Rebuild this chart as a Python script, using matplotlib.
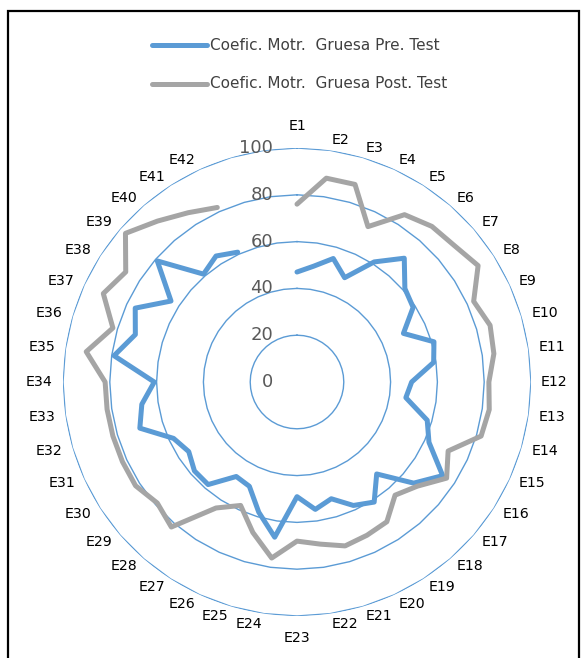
import numpy as np
import matplotlib
matplotlib.use("Agg")
import matplotlib.pyplot as plt
from matplotlib.lines import Line2D
from matplotlib.patches import Rectangle

# Categorias del radar (las dos ultimas posiciones van vacias, como en la hoja original)
categorias = ["E1", "E2", "E3", "E4", "E5", "E6", "E7", "E8", "E9", "E10",
              "E11", "E12", "E13", "E14", "E15", "E16", "E17", "E18", "E19", "E20",
              "E21", "E22", "E23", "E24", "E25", "E26", "E27", "E28", "E29", "E30",
              "E31", "E32", "E33", "E34", "E35", "E36", "E37", "E38", "E39", "E40",
              "E41", "E42", "", ""]

pre_test = [47, 50, 55, 49, 61, 70, 61, 59, 50, 61,
            59, 49, 47, 58, 62, 74, 66, 52, 61, 58,
            52, 55, 49, 67, 58, 49, 48, 58, 58, 55,
            58, 70, 67, 61, 79, 72, 76, 64, 79, 61,
            64, 61, np.nan, np.nan]

post_test = [76, 88, 88, 73, 85, 88, 89, 92, 83, 86,
             85, 82, 83, 82, 71, 76, 68, 64, 71, 72,
             73, 70, 68, 76, 67, 58, 64, 82, 79, 82,
             82, 82, 82, 82, 91, 82, 91, 87, 97, 91,
             86, 82, np.nan, np.nan]

niveles = [0, 20, 40, 60, 80, 100]

nombre_pre = "Coefic. Motr.  Gruesa Pre. Test"
nombre_post = "Coefic. Motr.  Gruesa Post. Test"

azul = "#5B9BD5"
gris = "#A5A5A5"

W, H = 584, 658
fig = plt.figure(figsize=(W / 100, H / 100), dpi=100)

# eje polar: centro en (297, 382) px, radio 234 px
cx, cy, R = 297, 382, 234
ax = fig.add_axes([(cx - R) / W, (H - cy - R) / H, 2 * R / W, 2 * R / H], projection="polar")
ax.set_theta_zero_location("N")
ax.set_theta_direction(-1)
ax.set_ylim(0, 100)
ax.grid(False)
ax.set_xticks([])
ax.set_yticks([])
ax.spines["polar"].set_visible(False)
ax.patch.set_visible(False)

n = len(categorias)
angulos = np.linspace(0, 2 * np.pi, n, endpoint=False)

# lineas de la cuadricula (poligonos de n lados)
ang_cerrado = np.append(angulos, angulos[0])
for nv in niveles[1:]:
    ax.plot(ang_cerrado, [nv] * (n + 1), color=azul, lw=1.0, zorder=1)

# series
ax.plot(angulos, pre_test, color=azul, lw=3.6, solid_capstyle="round",
        solid_joinstyle="round", zorder=3)
ax.plot(angulos, post_test, color=gris, lw=3.6, solid_capstyle="round",
        solid_joinstyle="round", zorder=4)

# etiquetas de los niveles
for nv in niveles:
    ax.annotate(str(nv), xy=(0, nv), xytext=(-24, 0), textcoords="offset pixels",
                ha="right", va="center", fontsize=13, color="#595959", zorder=5)

# etiquetas de las categorias
for ang, lab in zip(angulos, categorias):
    if lab == "":
        continue
    s = np.sin(ang)
    if abs(s) < 1e-6:
        ax.text(ang, 109.4, lab, ha="center", va="center", fontsize=10.2, color="black")
    else:
        ax.text(ang, 104.3, lab, ha="left" if s > 0 else "right", va="center",
                fontsize=10.2, color="black")

# leyenda
for yy, col, txt in [(45, azul, nombre_pre), (84, gris, nombre_post)]:
    fig.add_artist(Line2D([152 / W, 207 / W], [1 - yy / H, 1 - yy / H], color=col,
                          lw=3.6, solid_capstyle="round", transform=fig.transFigure))
    fig.text(210 / W, 1 - yy / H, txt, ha="left", va="center", fontsize=11, color="#404040")

# marco
fig.add_artist(Rectangle((8 / W, -0.05), (579 - 8) / W, 1.05 - 11 / H, fill=False,
                         edgecolor="black", lw=1.6, transform=fig.transFigure))

fig.savefig("out.png", dpi=100)
